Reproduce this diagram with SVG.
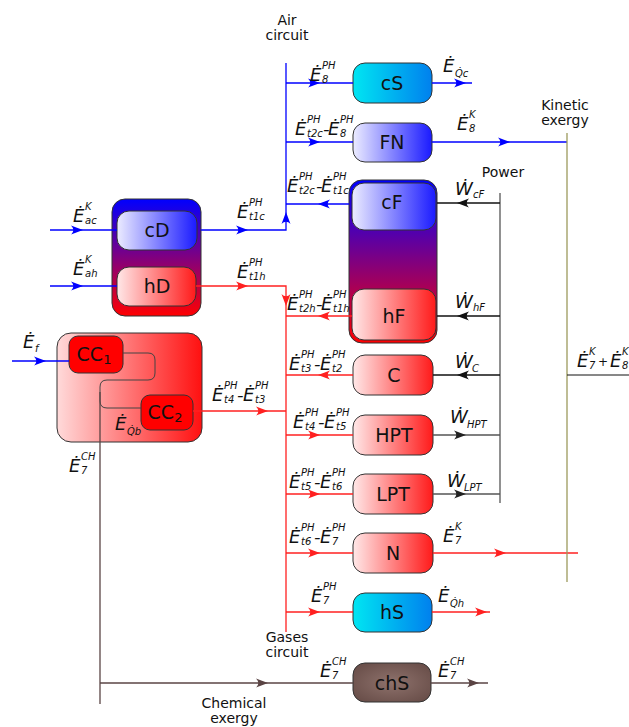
<svg xmlns="http://www.w3.org/2000/svg" xmlns:xlink="http://www.w3.org/1999/xlink" width="629" height="727" viewBox="0 0 629 727">
<style>
text{font-family:"DejaVu Sans","Liberation Sans",sans-serif;fill:#111}
.E{font-style:italic;font-size:18px}
.s{font-style:italic;font-size:10px}
.b{font-size:19px;text-anchor:middle}
.t{font-size:14px;text-anchor:middle}
.box{stroke:#333;stroke-width:1}
.lb{stroke:#0000ff;stroke-width:1.3;fill:none}
.lr{stroke:#ff2020;stroke-width:1.3;fill:none}
.lk{stroke:#111;stroke-width:1.3;fill:none}
.lg{stroke:#555;stroke-width:1.3;fill:none}
.lc{stroke:#5a4444;stroke-width:1.3;fill:none}
.lo{stroke:#9c9a5c;stroke-width:1.3;fill:none}
</style>
<defs>
<path id="ah" d="M0,0 L-12,-4.5 C-9,-1.5 -9,1.5 -12,4.5 Z"/>
<linearGradient id="gB" x1="0" y1="0" x2="1" y2="0"><stop offset="0" stop-color="#ececff"/><stop offset="1" stop-color="#1a1aff"/></linearGradient>
<linearGradient id="gR" x1="0" y1="0" x2="1" y2="0"><stop offset="0" stop-color="#ffe8e8"/><stop offset="1" stop-color="#ff1a1a"/></linearGradient>
<linearGradient id="gC" x1="0" y1="0" x2="1" y2="0"><stop offset="0" stop-color="#00e6f2"/><stop offset="1" stop-color="#0080ee"/></linearGradient>
<linearGradient id="gV" x1="0" y1="0" x2="0" y2="1"><stop offset="0" stop-color="#0000ff"/><stop offset="0.5" stop-color="#80007f"/><stop offset="1" stop-color="#ff0000"/></linearGradient>
<linearGradient id="gCC" x1="0" y1="0" x2="1" y2="0"><stop offset="0" stop-color="#ffdada"/><stop offset="1" stop-color="#ff1010"/></linearGradient>
<radialGradient id="gCh" cx="0.5" cy="0.5" r="0.6"><stop offset="0" stop-color="#8e726c"/><stop offset="1" stop-color="#6a4f4a"/></radialGradient>
</defs>

<g id="cDhD"><rect class="box" x="112" y="199" width="89" height="117" rx="13" fill="url(#gV)"/></g>
<g id="cD"><rect class="box" x="117" y="211" width="80" height="39" rx="12" fill="url(#gB)"/><text class="b" x="157" y="237">cD</text></g>
<g id="hD"><rect class="box" x="117" y="267" width="79" height="39" rx="12" fill="url(#gR)"/><text class="b" x="157" y="293">hD</text></g>

<g id="CCblock"><rect class="box" x="57" y="333" width="145" height="109" rx="14" fill="url(#gCC)"/></g>
<g id="CC1"><rect class="box" x="69" y="336" width="54" height="37" rx="9" fill="#ff0000"/><text class="b" x="94" y="361">CC<tspan font-size="13" dy="3">1</tspan></text></g>
<g id="CC2"><rect class="box" x="141" y="395" width="52" height="35" rx="9" fill="#ff0000"/><text class="b" x="165" y="419">CC<tspan font-size="13" dy="3">2</tspan></text></g>

<g id="cS"><rect class="box" x="353" y="63" width="79" height="40" rx="12" fill="url(#gC)"/><text class="b" x="392" y="90">cS</text></g>
<g id="FN"><rect class="box" x="353" y="123" width="79" height="39" rx="12" fill="url(#gB)"/><text class="b" x="392" y="149">FN</text></g>
<g id="cFhF"><rect class="box" x="349" y="180" width="88" height="163" rx="13" fill="url(#gV)"/></g>
<g id="cF"><rect class="box" x="352" y="183" width="84" height="47" rx="12" fill="url(#gB)"/><text class="b" x="392" y="209">cF</text></g>
<g id="hF"><rect class="box" x="352" y="289" width="84" height="51" rx="12" fill="url(#gR)"/><text class="b" x="394" y="323">hF</text></g>
<g id="C"><rect class="box" x="353" y="355" width="80" height="40" rx="12" fill="url(#gR)"/><text class="b" x="394" y="382">C</text></g>
<g id="HPT"><rect class="box" x="353" y="415" width="80" height="40" rx="12" fill="url(#gR)"/><text class="b" x="394" y="442">HPT</text></g>
<g id="LPT"><rect class="box" x="353" y="474" width="80" height="40" rx="12" fill="url(#gR)"/><text class="b" x="393" y="501">LPT</text></g>
<g id="N"><rect class="box" x="353" y="533" width="80" height="40" rx="12" fill="url(#gR)"/><text class="b" x="393" y="560">N</text></g>
<g id="hS"><rect class="box" x="353" y="593" width="79" height="39" rx="12" fill="url(#gC)"/><text class="b" x="392" y="619">hS</text></g>
<g id="chS"><rect class="box" x="353" y="663" width="78" height="39" rx="12" fill="url(#gCh)"/><text class="b" x="392" y="690">chS</text></g>

<g id="connectors">
<path class="lb" d="M201,230 H286 V63"/>
<path class="lb" d="M286,83 H353"/>
<path class="lb" d="M432,83 H472"/>
<path class="lb" d="M286,142 H353"/>
<path class="lb" d="M432,142 H567"/>
<path class="lb" d="M349,204 H286"/>
<path class="lb" d="M50,230 H117"/>
<path class="lb" d="M50,286 H117"/>
<path class="lb" d="M12,361 H69"/>
<use href="#ah" transform="translate(320,83)" fill="#0000ff"/>
<use href="#ah" transform="translate(466,83)" fill="#0000ff"/>
<use href="#ah" transform="translate(320,142)" fill="#0000ff"/>
<use href="#ah" transform="translate(510,142)" fill="#0000ff"/>
<use href="#ah" transform="translate(318,204) rotate(180)" fill="#0000ff"/>
<use href="#ah" transform="translate(248,230)" fill="#0000ff"/>
<use href="#ah" transform="translate(286,212) rotate(-90)" fill="#0000ff"/>
<use href="#ah" transform="translate(83,230)" fill="#0000ff"/>
<use href="#ah" transform="translate(83,286)" fill="#0000ff"/>
<use href="#ah" transform="translate(46,361)" fill="#0000ff"/>
<path class="lr" d="M196,286 H286 V632"/>
<path class="lr" d="M352,316 H286"/>
<path class="lr" d="M353,375 H286"/>
<path class="lr" d="M193,411 H286"/>
<path class="lr" d="M286,435 H353"/>
<path class="lr" d="M286,494 H353"/>
<path class="lr" d="M286,553 H353"/>
<path class="lr" d="M286,612 H353"/>
<path class="lr" d="M433,553 H578"/>
<path class="lr" d="M432,612 H490"/>
<use href="#ah" transform="translate(248,286)" fill="#ff2020"/>
<use href="#ah" transform="translate(286,306) rotate(90)" fill="#ff2020"/>
<use href="#ah" transform="translate(318,316) rotate(180)" fill="#ff2020"/>
<use href="#ah" transform="translate(318,375) rotate(180)" fill="#ff2020"/>
<use href="#ah" transform="translate(268,411)" fill="#ff2020"/>
<use href="#ah" transform="translate(320,435)" fill="#ff2020"/>
<use href="#ah" transform="translate(320,494)" fill="#ff2020"/>
<use href="#ah" transform="translate(320,553)" fill="#ff2020"/>
<use href="#ah" transform="translate(320,612)" fill="#ff2020"/>
<use href="#ah" transform="translate(506,553)" fill="#ff2020"/>
<use href="#ah" transform="translate(487,612)" fill="#ff2020"/>
<path class="lg" d="M500,193 V503"/>
<path class="lk" d="M500,203 H437"/>
<path class="lk" d="M500,316 H437"/>
<path class="lk" d="M500,375 H433"/>
<path class="lg" d="M433,435 H500"/>
<path class="lg" d="M433,494 H500"/>
<use href="#ah" transform="translate(457,203) rotate(180)" fill="#111"/>
<use href="#ah" transform="translate(457,316) rotate(180)" fill="#111"/>
<use href="#ah" transform="translate(457,375) rotate(180)" fill="#111"/>
<use href="#ah" transform="translate(466,435)" fill="#222"/>
<use href="#ah" transform="translate(466,494)" fill="#222"/>
<path class="lo" d="M567,133 V582"/>
<path class="lk" d="M567,375 H629" style="stroke-width:1"/>
<path class="lc" d="M123,353 H148 Q155,353 155,360 V373 Q155,380 148,380 H107 Q100,380 100,387 V401 Q100,408 107,408 H141" style="stroke:#444;stroke-width:1"/>
<path class="lc" d="M100,392 V704"/>
<path class="lc" d="M100,683 H353"/>
<path class="lc" d="M431,683 H488"/>
<use href="#ah" transform="translate(268,683)" fill="#5a4444"/>
<use href="#ah" transform="translate(479,683)" fill="#5a4444"/>
</g>

<g id="titles">
<text class="t"><tspan x="287" y="25">Air</tspan><tspan x="287" y="40">circuit</tspan></text>
<text class="t"><tspan x="565" y="110">Kinetic</tspan><tspan x="565" y="125">exergy</tspan></text>
<text class="t" x="503" y="177">Power</text>
<text class="t"><tspan x="287" y="642">Gases</tspan><tspan x="287" y="657">circuit</tspan></text>
<text class="t"><tspan x="234" y="708">Chemical</tspan><tspan x="234" y="723">exergy</tspan></text>
</g>

<g id="labels">
<text><tspan class="E" x="310" y="81">Ė</tspan><tspan class="s" x="322" y="69">PH</tspan><tspan class="s" x="322" y="83">8</tspan></text>
<text><tspan class="E" x="443" y="72">Ė</tspan><tspan class="s" x="455" y="77">Q̇c</tspan></text>
<text><tspan class="E" x="295" y="135">Ė</tspan><tspan class="s" x="307" y="123">PH</tspan><tspan class="s" x="307" y="137">t2c</tspan><tspan class="E" x="323" y="135">-</tspan><tspan class="E" x="328" y="135">Ė</tspan><tspan class="s" x="340" y="123">PH</tspan><tspan class="s" x="340" y="137">8</tspan></text>
<text><tspan class="E" x="457" y="130">Ė</tspan><tspan class="s" x="469" y="118">K</tspan><tspan class="s" x="469" y="132">8</tspan></text>
<text><tspan class="E" x="287" y="192">Ė</tspan><tspan class="s" x="299" y="180">PH</tspan><tspan class="s" x="299" y="194">t2c</tspan><tspan class="E" x="316" y="192">-</tspan><tspan class="E" x="321" y="192">Ė</tspan><tspan class="s" x="333" y="180">PH</tspan><tspan class="s" x="333" y="194">t1c</tspan></text>
<text><tspan class="E" x="287" y="310">Ė</tspan><tspan class="s" x="299" y="298">PH</tspan><tspan class="s" x="299" y="312">t2h</tspan><tspan class="E" x="316" y="310">-</tspan><tspan class="E" x="321" y="310">Ė</tspan><tspan class="s" x="333" y="298">PH</tspan><tspan class="s" x="333" y="312">t1h</tspan></text>
<text><tspan class="E" x="237" y="218">Ė</tspan><tspan class="s" x="249" y="206">PH</tspan><tspan class="s" x="249" y="220">t1c</tspan></text>
<text><tspan class="E" x="237" y="278">Ė</tspan><tspan class="s" x="249" y="266">PH</tspan><tspan class="s" x="249" y="280">t1h</tspan></text>
<text><tspan class="E" x="73" y="222">Ė</tspan><tspan class="s" x="85" y="210">K</tspan><tspan class="s" x="85" y="224">ac</tspan></text>
<text><tspan class="E" x="73" y="275">Ė</tspan><tspan class="s" x="85" y="263">K</tspan><tspan class="s" x="85" y="277">ah</tspan></text>
<text><tspan class="E" x="23" y="348">Ė</tspan><tspan class="s" x="35" y="352">f</tspan></text>
<text><tspan class="E" x="212" y="401">Ė</tspan><tspan class="s" x="224" y="389">PH</tspan><tspan class="s" x="224" y="403">t4</tspan><tspan class="E" x="237" y="401">-</tspan><tspan class="E" x="243" y="401">Ė</tspan><tspan class="s" x="255" y="389">PH</tspan><tspan class="s" x="255" y="403">t3</tspan></text>
<text><tspan class="E" x="115" y="430">Ė</tspan><tspan class="s" x="127" y="435">Q̇b</tspan></text>
<text><tspan class="E" x="69" y="472">Ė</tspan><tspan class="s" x="81" y="460">CH</tspan><tspan class="s" x="81" y="474">7</tspan></text>
<text><tspan class="E" x="289" y="370">Ė</tspan><tspan class="s" x="301" y="358">PH</tspan><tspan class="s" x="301" y="372">t3</tspan><tspan class="E" x="314" y="370">-</tspan><tspan class="E" x="320" y="370">Ė</tspan><tspan class="s" x="332" y="358">PH</tspan><tspan class="s" x="332" y="372">t2</tspan></text>
<text><tspan class="E" x="293" y="428">Ė</tspan><tspan class="s" x="305" y="416">PH</tspan><tspan class="s" x="305" y="430">t4</tspan><tspan class="E" x="318" y="428">-</tspan><tspan class="E" x="324" y="428">Ė</tspan><tspan class="s" x="336" y="416">PH</tspan><tspan class="s" x="336" y="430">t5</tspan></text>
<text><tspan class="E" x="289" y="488">Ė</tspan><tspan class="s" x="301" y="476">PH</tspan><tspan class="s" x="301" y="490">t5</tspan><tspan class="E" x="314" y="488">-</tspan><tspan class="E" x="320" y="488">Ė</tspan><tspan class="s" x="332" y="476">PH</tspan><tspan class="s" x="332" y="490">t6</tspan></text>
<text><tspan class="E" x="289" y="543">Ė</tspan><tspan class="s" x="301" y="531">PH</tspan><tspan class="s" x="301" y="545">t6</tspan><tspan class="E" x="314" y="543">-</tspan><tspan class="E" x="320" y="543">Ė</tspan><tspan class="s" x="332" y="531">PH</tspan><tspan class="s" x="332" y="545">7</tspan></text>
<text><tspan class="E" x="443" y="542">Ė</tspan><tspan class="s" x="455" y="530">K</tspan><tspan class="s" x="455" y="544">7</tspan></text>
<text><tspan class="E" x="311" y="602">Ė</tspan><tspan class="s" x="323" y="590">PH</tspan><tspan class="s" x="323" y="604">7</tspan></text>
<text><tspan class="E" x="438" y="602">Ė</tspan><tspan class="s" x="450" y="607">Q̇h</tspan></text>
<text><tspan class="E" x="320" y="677">Ė</tspan><tspan class="s" x="332" y="665">CH</tspan><tspan class="s" x="332" y="679">7</tspan></text>
<text><tspan class="E" x="438" y="677">Ė</tspan><tspan class="s" x="450" y="665">CH</tspan><tspan class="s" x="450" y="679">7</tspan></text>
<text><tspan class="E" x="455" y="195">Ẇ</tspan><tspan class="s" x="473" y="198">cF</tspan></text>
<text><tspan class="E" x="455" y="308">Ẇ</tspan><tspan class="s" x="473" y="311">hF</tspan></text>
<text><tspan class="E" x="455" y="368">Ẇ</tspan><tspan class="s" x="472" y="372">C</tspan></text>
<text><tspan class="E" x="450" y="423">Ẇ</tspan><tspan class="s" x="467" y="428">HPT</tspan></text>
<text><tspan class="E" x="447" y="487">Ẇ</tspan><tspan class="s" x="464" y="491">LPT</tspan></text>
<text><tspan class="E" x="577" y="367">Ė</tspan><tspan class="s" x="589" y="355">K</tspan><tspan class="s" x="589" y="369">7</tspan><tspan x="598" y="366" font-size="12">+</tspan><tspan class="E" x="610" y="367">Ė</tspan><tspan class="s" x="622" y="355">K</tspan><tspan class="s" x="622" y="369">8</tspan></text>
</g>
</svg>
